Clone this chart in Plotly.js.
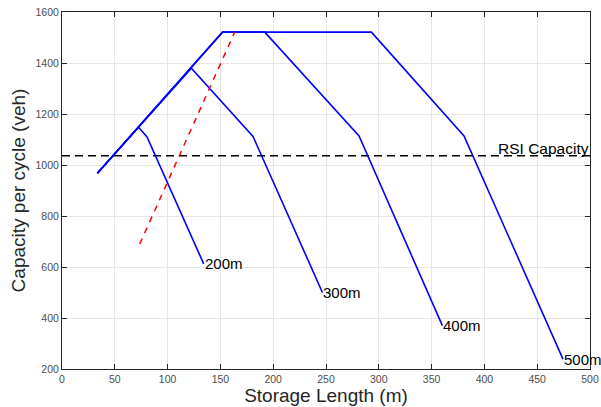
<!DOCTYPE html>
<html>
<head>
<meta charset="utf-8">
<script src="https://cdn.plot.ly/plotly-3.0.1.min.js"></script>
<style>html,body{margin:0;padding:0;background:#fff;}#chart{width:601px;height:407px;}</style>
</head>
<body>
<div id="chart"></div>
<script>
// Data
const x200 = [33.5, 72.5, 80.5, 134.2];
const y200 = [968, 1148, 1110, 612];
const x300 = [33.5, 122.5, 180.9, 246.6];
const y300 = [968, 1380, 1112, 500];
const x400 = [33.5, 152, 192, 281.3, 360.2];
const y400 = [968, 1521, 1521, 1114, 370];
const x500 = [33.5, 152, 293, 380.7, 474.4];
const y500 = [968, 1521, 1521, 1114, 239];
const xRed = [73.6, 163.5];
const yRed = [690, 1521];
const xRSI = [0, 500];
const yRSI = [1036, 1036];
const endLabels = ["200m", "300m", "400m", "500m"];
const rsiLabel = "RSI Capacity";
const xTicks = [0, 50, 100, 150, 200, 250, 300, 350, 400, 450, 500];
const yTicks = [200, 400, 600, 800, 1000, 1200, 1400, 1600];

const blue = {color: '#0000ff', width: 1.6};
const traces = [
  {x: xRSI, y: yRSI, mode: 'lines', line: {color: '#000', width: 1.5, dash: '8px,5px'}},
  {x: x200, y: y200, mode: 'lines', line: blue},
  {x: x300, y: y300, mode: 'lines', line: blue},
  {x: x400, y: y400, mode: 'lines', line: blue},
  {x: x500, y: y500, mode: 'lines', line: blue},
  {x: xRed, y: yRed, mode: 'lines', line: {color: '#ff0000', width: 1.5, dash: '6px,6px'}}
];

const series = [[x200, y200], [x300, y300], [x400, y400], [x500, y500]];
const annotations = series.map((s, i) => ({
  x: s[0][s[0].length - 1], y: s[1][s[1].length - 1],
  text: endLabels[i], showarrow: false, xanchor: 'left', yanchor: 'middle',
  xshift: -1, font: {family: 'Liberation Sans, Arial, sans-serif', size: 15, color: '#000'}
}));
annotations.push({
  x: 411, y: yRSI[0], text: rsiLabel, showarrow: false, xanchor: 'left', yanchor: 'bottom',
  yshift: -3, font: {family: 'Liberation Sans, Arial, sans-serif', size: 15.5, color: '#000'}
});

const axisCommon = {
  showline: true, linecolor: '#262626', linewidth: 1, mirror: 'ticks',
  ticks: 'inside', ticklen: 5, tickcolor: '#262626', tickwidth: 1,
  showgrid: true, gridcolor: '#e6e6e6', gridwidth: 1, zeroline: false,
  tickfont: {family: 'Liberation Sans, Arial, sans-serif', size: 10.5, color: '#4d4d4d'}
};

const layout = {
  width: 601, height: 407,
  margin: {l: 62, r: 11, t: 12, b: 38},
  paper_bgcolor: '#fff', plot_bgcolor: '#fff',
  showlegend: false,
  xaxis: Object.assign({}, axisCommon, {
    range: [0, 500], tickvals: xTicks, ticktext: xTicks.map(String),
    title: {text: 'Storage Length (m)', standoff: 3,
      font: {family: 'Liberation Sans, Arial, sans-serif', size: 19, color: '#262626'}}
  }),
  yaxis: Object.assign({}, axisCommon, {
    range: [200, 1600], tickvals: yTicks, ticktext: yTicks.map(String),
    title: {text: 'Capacity per cycle (veh)', standoff: 4,
      font: {family: 'Liberation Sans, Arial, sans-serif', size: 19, color: '#262626'}}
  }),
  annotations: annotations
};

Plotly.newPlot('chart', traces, layout, {displayModeBar: false, staticPlot: true});
</script>
</body>
</html>
